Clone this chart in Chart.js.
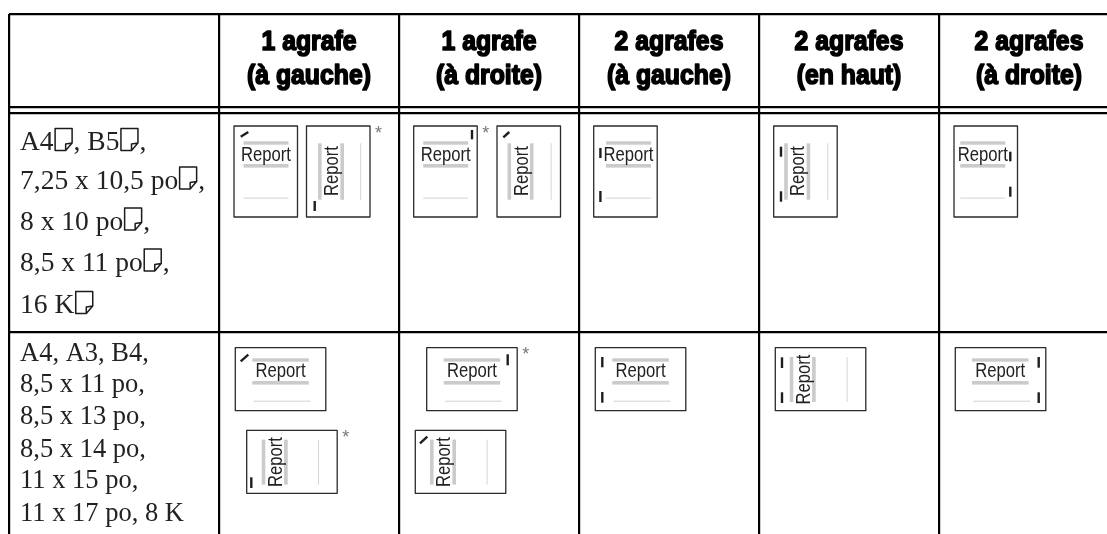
<!DOCTYPE html>
<html>
<head>
<meta charset="utf-8">
<title>Agrafage</title>
<script src="https://cdn.jsdelivr.net/npm/chart.js@4"></script>
<style>
  html, body { margin: 0; padding: 0; background: #fff; }
  canvas { display: block; }
</style>
</head>
<body>
<canvas id="chart-table" width="1107" height="534"></canvas>
<script>
// ── Table content ──
const columnHeaders = [
  ["1 agrafe", "(à gauche)"],
  ["1 agrafe", "(à droite)"],
  ["2 agrafes", "(à gauche)"],
  ["2 agrafes", "(en haut)"],
  ["2 agrafes", "(à droite)"],
];
// "#" stands for the paper icon
const feedSizes = ["A4#, B5#,", "7,25 x 10,5 po#,", "8 x 10 po#,", "8,5 x 11 po#,", "16 K#"];
const standardSizes = ["A4, A3, B4,", "8,5 x 11 po,", "8,5 x 13 po,", "8,5 x 14 po,", "11 x 15 po,", "11 x 17 po, 8 K"];
const sheetWord = "Report";
const starMark = "*";

// ── Drawing layout, in page pixels (scale units equal pixels) ──
const colEdges = [9, 219, 399, 579, 759, 939];
const ruleRows = [14, 107, 113, 332];
const feedBaselines = [150, 188.5, 229.5, 270.5, 313];
const standardBaselines = [360.7, 392.3, 424, 456.7, 488, 520.7];
const headerBaselines = [49.5, 83.5];

const sheetSpots = [
  { x: 234, y: 126, w: 63.5, h: 91, dir: "h", dx: 9.5, staples: [[6.7, 10.7, 14.3, 6]] },
  { x: 306.5, y: 126, w: 63.5, h: 91, dir: "v", dx: 31.5, staples: [[8.2, 75, 8.2, 85]], star: true },
  { x: 413.7, y: 126, w: 63.5, h: 91, dir: "h", dx: 9.5, staples: [[58.3, 4, 58.3, 13.3]], star: true },
  { x: 497, y: 126, w: 63.5, h: 91, dir: "v", dx: 30.5, staples: [[6.3, 11.3, 12.3, 6]] },
  { x: 593.7, y: 126, w: 63.5, h: 91, dir: "h", dx: 12.3, staples: [[6.7, 22, 6.7, 32], [6.7, 65, 6.7, 76]] },
  { x: 773.7, y: 126, w: 63.5, h: 91, dir: "v", dx: 30.5, staples: [[7.3, 20.7, 7.3, 30.7], [7.3, 65.3, 7.3, 75.7]] },
  { x: 954, y: 126, w: 63.5, h: 91, dir: "h", dx: 6.3, staples: [[56.3, 25.7, 56.3, 35.3], [56.3, 60.7, 56.3, 70.7]] },
  { x: 235.3, y: 347.7, w: 90.5, h: 63, dir: "H", dx: 17, staples: [[5.4, 13.6, 13, 7]] },
  { x: 246.7, y: 430.3, w: 90.5, h: 63, dir: "V", dx: 35, staples: [[4.6, 47, 4.6, 57.7]], star: true },
  { x: 426.7, y: 347.7, w: 90.5, h: 63, dir: "H", dx: 17, staples: [[81, 6.6, 81, 17.6]], star: true },
  { x: 415.3, y: 430.3, w: 90.5, h: 63, dir: "V", dx: 34.7, staples: [[4.7, 13, 12, 6.4]] },
  { x: 595.3, y: 347.7, w: 90.5, h: 63, dir: "H", dx: 17, staples: [[7, 9.3, 7, 19.6], [7, 44.3, 7, 55]] },
  { x: 775.3, y: 347.7, w: 90.5, h: 63, dir: "V", dx: 34.4, staples: [[6.7, 9.6, 6.7, 20.3], [6.7, 44.6, 6.7, 55.3]] },
  { x: 955.3, y: 347.7, w: 90.5, h: 63, dir: "H", dx: 16.7, staples: [[83.4, 9.3, 83.4, 20], [83.4, 44.6, 83.4, 55.3]] },
];

function paperIcon(ctx, x, base) {
  const w = 17, h = 22, y = base - h + 0.5;
  ctx.save();
  ctx.strokeStyle = "#1c1c1c";
  ctx.lineWidth = 1.5;
  ctx.beginPath();
  ctx.moveTo(x, y);
  ctx.lineTo(x + w, y);
  ctx.lineTo(x + w, y + h * 0.66);
  ctx.lineTo(x + w * 0.62, y + h);
  ctx.lineTo(x, y + h);
  ctx.closePath();
  // folded corner
  ctx.moveTo(x + w, y + h * 0.66);
  ctx.lineTo(x + w * 0.62, y + h * 0.7);
  ctx.lineTo(x + w * 0.62, y + h);
  ctx.stroke();
  ctx.restore();
}

function drawSizes(ctx, lines, baselines, size, px, py) {
  ctx.font = `${size}px "Liberation Serif"`;
  ctx.fillStyle = "#222";
  ctx.textAlign = "left";
  ctx.textBaseline = "alphabetic";
  lines.forEach((line, i) => {
    let x = px(20);
    const y = py(baselines[i]);
    line.split("#").forEach((part, k) => {
      if (k > 0) {
        paperIcon(ctx, x + 1.5, y);
        x += 20;
      }
      if (part) {
        ctx.fillText(part, x, y);
        x += ctx.measureText(part).width;
      }
    });
  });
}

function drawHeaders(ctx, px, py) {
  ctx.font = 'bold 28px "Liberation Sans"';
  ctx.fillStyle = "#000";
  ctx.strokeStyle = "#000";
  ctx.lineWidth = 1.7;
  ctx.lineJoin = "round";
  ctx.textAlign = "center";
  ctx.textBaseline = "alphabetic";
  columnHeaders.forEach((lines, c) => {
    const cx = (px(colEdges[c + 1]) + px(colEdges[c + 2] ?? 1119)) / 2;
    lines.forEach((line, i) => {
      const w = ctx.measureText(line).width * 0.885;
      ctx.fillText(line, cx, py(headerBaselines[i]), w);
      ctx.strokeText(line, cx, py(headerBaselines[i]), w);
    });
  });
}

function drawSheet(ctx, spot, x, y) {
  ctx.save();
  ctx.translate(x, y);
  ctx.strokeStyle = "#2a2a2a";
  ctx.lineWidth = 1.3;
  ctx.strokeRect(0, 0, spot.w, spot.h);

  const wide = spot.dir === "H" || spot.dir === "V";
  const bar = "#cbcbcb";
  ctx.textAlign = "center";
  ctx.textBaseline = "alphabetic";
  ctx.font = '20px "Liberation Sans"';

  if (spot.dir === "h" || spot.dir === "H") {
    const top = wide ? 10.6 : 15.3;
    const len = wide ? 56.5 : 45;
    ctx.fillStyle = bar;
    ctx.fillRect(spot.dx, top, len, 3.4);
    ctx.fillRect(spot.dx, top + 22.7, len, 3.6);
    ctx.fillStyle = "#d2d2d2";
    ctx.fillRect(spot.dx + (wide ? 1.5 : 0), wide ? 53 : 71.6, len, 1);
    ctx.fillStyle = "#222";
    ctx.fillText(sheetWord, spot.dx + len / 2, wide ? 29.7 : 35, 50);
  } else {
    const top = wide ? 9.3 : 17.3;
    const len = wide ? 45 : 56.4;
    const left = spot.dx - 21;
    ctx.fillStyle = bar;
    ctx.fillRect(left + 1, top, 3.6, len);
    ctx.fillRect(left + 23.4, top, 3.6, len);
    ctx.fillStyle = "#d6d6d6";
    ctx.fillRect(wide ? 71.3 : 53.6, top, 1, len);
    ctx.save();
    ctx.translate(spot.dx, top + len / 2 - (wide ? 0 : 0.5));
    ctx.rotate(-Math.PI / 2);
    ctx.fillStyle = "#222";
    ctx.fillText(sheetWord, 0, 0, 50);
    ctx.restore();
  }

  ctx.strokeStyle = "#1e1e1e";
  ctx.lineWidth = 2.4;
  spot.staples.forEach(([x1, y1, x2, y2]) => {
    ctx.beginPath();
    ctx.moveTo(x1, y1);
    ctx.lineTo(x2, y2);
    ctx.stroke();
  });

  if (spot.star) {
    ctx.fillStyle = "#777";
    ctx.textAlign = "left";
    ctx.font = '18px "Liberation Sans"';
    ctx.fillText(starMark, spot.w + 5, 12.5);
  }
  ctx.restore();
}

const tablePlugin = {
  id: "tablePlugin",
  afterDatasetsDraw(chart) {
    const { ctx, scales } = chart;
    const px = (v) => scales.x.getPixelForValue(v);
    const py = (v) => scales.y.getPixelForValue(v);
    ctx.save();
    drawHeaders(ctx, px, py);
    drawSizes(ctx, feedSizes, feedBaselines, 27.5, px, py);
    drawSizes(ctx, standardSizes, standardBaselines, 26.5, px, py);
    chart.getDatasetMeta(0).data.forEach((el, i) => {
      drawSheet(ctx, sheetSpots[i], el.x, el.y);
    });
    ctx.restore();
  },
};

new Chart(document.getElementById("chart-table"), {
  type: "scatter",
  data: {
    datasets: [{
      label: "Feuilles",
      data: sheetSpots.map((s) => ({ x: s.x, y: s.y })),
      pointRadius: 0,
    }],
  },
  plugins: [tablePlugin],
  options: {
    responsive: false,
    animation: false,
    layout: { padding: { left: 9, top: 14, right: 0, bottom: 0 } },
    plugins: { legend: { display: false }, tooltip: { enabled: false } },
    scales: {
      x: {
        type: "linear",
        position: "top",
        min: 9,
        max: 1107,
        afterBuildTicks: (scale) => { scale.ticks = colEdges.map((value) => ({ value })); },
        ticks: { display: false, autoSkip: false },
        border: { display: false },
        grid: { color: "#000", lineWidth: 2.2, drawTicks: false },
      },
      y: {
        type: "linear",
        reverse: true,
        min: 14,
        max: 534,
        afterBuildTicks: (scale) => { scale.ticks = ruleRows.map((value) => ({ value })); },
        ticks: { display: false, autoSkip: false },
        border: { display: false },
        grid: { color: "#000", lineWidth: 2.2, drawTicks: false },
      },
    },
  },
});
</script>
</body>
</html>
